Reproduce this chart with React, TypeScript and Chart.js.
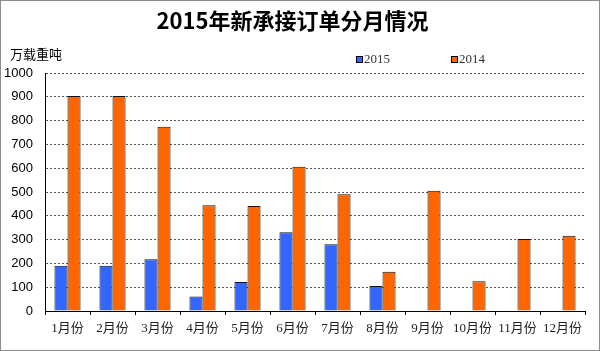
import React, { useEffect, useRef } from "react";
import { Chart, registerables } from "chart.js";

Chart.register(...registerables);

const chartTitle = "2015年新承接订单分月情况";
const unitLabel = "万载重吨";
const months = ["1月份", "2月份", "3月份", "4月份", "5月份", "6月份", "7月份", "8月份", "9月份", "10月份", "11月份", "12月份"];
const seriesNames = ["2015", "2014"];
const values2015 = [190, 190, 217, 61, 122, 331, 280, 105, null, null, null, null];
const values2014 = [903, 903, 774, 444, 441, 606, 491, 165, 505, 125, 302, 316];
const yMin = 0;
const yMax = 1000;
const yStep = 100;
const colors = ["#3366FF", "#FF6600"];

const decorPlugin = {
  id: "decor",
  afterDraw(chart: any) {
    const ctx = chart.ctx;
    ctx.save();
    // outer border
    ctx.strokeStyle = "#8c8c8c";
    ctx.lineWidth = 1;
    ctx.strokeRect(0.5, 0.5, chart.width - 1, chart.height - 1);
    // unit label
    ctx.fillStyle = "#000";
    ctx.font = "13px 'Noto Sans CJK SC'";
    ctx.textAlign = "left";
    ctx.textBaseline = "middle";
    ctx.fillText(unitLabel, 10, 54);
    // legend
    const xs = [356, 451];
    ctx.font = "13px 'Liberation Serif'";
    seriesNames.forEach((name, i) => {
      ctx.fillStyle = colors[i];
      ctx.fillRect(xs[i] + 0.5, 56.5, 6, 6);
      ctx.strokeStyle = "#000";
      ctx.strokeRect(xs[i] + 0.5, 56.5, 6, 6);
      ctx.fillStyle = "#333";
      ctx.fillText(name, xs[i] + 8, 60);
    });
    ctx.restore();
  },
};

export default function App() {
  const ref = useRef<HTMLCanvasElement>(null);
  useEffect(() => {
    document.body.style.margin = "0";
    const chart = new Chart(ref.current!, {
      type: "bar",
      data: {
        labels: months,
        datasets: [
          {
            label: seriesNames[0],
            data: values2015,
            backgroundColor: colors[0],
            borderColor: "#111",
            borderWidth: 1,
            categoryPercentage: 0.58,
            barPercentage: 1,
          },
          {
            label: seriesNames[1],
            data: values2014,
            backgroundColor: colors[1],
            borderColor: "#111",
            borderWidth: 1,
            categoryPercentage: 0.58,
            barPercentage: 1,
          },
        ],
      },
      options: {
        responsive: false,
        animation: false,
        layout: { padding: { top: 0, left: 0, right: 15, bottom: 0 } },
        plugins: {
          legend: { display: false },
          tooltip: { enabled: false },
          title: {
            display: true,
            text: chartTitle,
            color: "#000",
            font: { size: 22, weight: "bold", family: "'Noto Sans CJK SC'" },
            padding: { top: 7, bottom: 39.6 },
          },
        },
        scales: {
          x: {
            grid: {
              drawOnChartArea: false,
              drawTicks: true,
              tickLength: 4,
              color: "#000",
              offset: true,
            },
            border: { display: true, color: "#000", width: 1 },
            ticks: {
              color: "#222",
              padding: 6,
              maxRotation: 0,
              autoSkip: false,
              font: { size: 13, family: "'Liberation Serif', 'Noto Sans CJK SC'" },
            },
            afterFit: (scale: any) => {
              scale.height = 40;
            },
          },
          y: {
            min: yMin,
            max: yMax,
            ticks: {
              stepSize: yStep,
              color: "#000",
              padding: 12,
              font: { size: 13, family: "'Liberation Sans'" },
              callback: (v: any) => String(v),
            },
            grid: {
              drawTicks: false,
              color: "#555",
            },
            border: { display: true, color: "#000", width: 1, dash: [2, 2] },
            afterFit: (scale: any) => {
              scale.width = 45;
            },
          },
        },
      },
      plugins: [decorPlugin],
    });
    return () => chart.destroy();
  }, []);
  return <canvas ref={ref} width={600} height={351} style={{ display: "block" }} />;
}
